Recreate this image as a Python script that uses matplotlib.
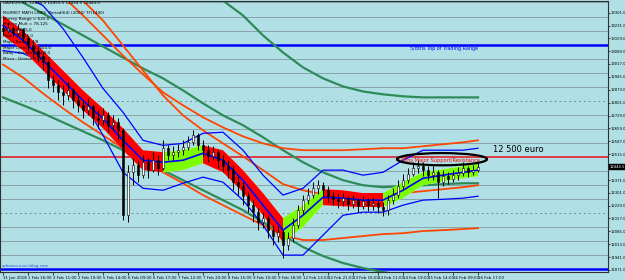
import numpy as np
import matplotlib
matplotlib.use("Agg")
import matplotlib.pyplot as plt
from matplotlib.patches import Ellipse
from matplotlib.transforms import blended_transform_factory

# candles (one every 5 px on the original)
first_open = 13215
close = [13203, 13220, 13187, 13209, 13159, 13120, 13092, 13064, 13026, 12926,
         12898, 12859, 12842, 12870, 12814, 12787, 12759, 12781, 12714, 12703,
         12731, 12676, 12692, 12648, 12175, 12414, 12453, 12398, 12470, 12426,
         12481, 12437, 12548, 12509, 12526, 12537, 12553, 12581, 12620, 12564,
         12537, 12503, 12526, 12481, 12448, 12426, 12359, 12337, 12281, 12231,
         12192, 12137, 12159, 12092, 12059, 12081, 12009, 12048, 12120, 12203,
         12259, 12287, 12325, 12342, 12314, 12281, 12264, 12253, 12270, 12237,
         12259, 12225, 12253, 12231, 12242, 12220, 12203, 12259, 12287, 12337,
         12370, 12403, 12437, 12448, 12426, 12398, 12414, 12359, 12392, 12375,
         12398, 12409, 12437, 12414, 12426, 12444]
high = [13231, 13248, 13231, 13237, 13220, 13170, 13137, 13109, 13081, 13037,
        12953, 12926, 12898, 12914, 12881, 12842, 12814, 12826, 12792, 12759,
        12770, 12748, 12731, 12714, 12659, 12453, 12492, 12481, 12509, 12492,
        12526, 12509, 12592, 12564, 12559, 12570, 12592, 12614, 12648, 12631,
        12592, 12564, 12559, 12537, 12509, 12481, 12448, 12392, 12359, 12303,
        12259, 12214, 12192, 12175, 12120, 12114, 12092, 12081, 12159, 12231,
        12287, 12325, 12359, 12370, 12359, 12337, 12303, 12292, 12298, 12281,
        12287, 12270, 12281, 12270, 12275, 12259, 12248, 12287, 12325, 12370,
        12403, 12437, 12470, 12481, 12470, 12448, 12448, 12426, 12426, 12414,
        12426, 12442, 12470, 12448, 12453, 12470]
low = [13176, 13187, 13170, 13176, 13137, 13092, 13048, 13026, 12981, 12881,
       12859, 12814, 12787, 12814, 12770, 12748, 12714, 12731, 12676, 12659,
       12676, 12637, 12648, 12592, 12148, 12137, 12342, 12359, 12381, 12381,
       12414, 12398, 12426, 12481, 12481, 12498, 12509, 12537, 12564, 12537,
       12503, 12470, 12481, 12437, 12414, 12381, 12314, 12287, 12231, 12192,
       12137, 12092, 12103, 12048, 12009, 12025, 11937, 11981, 12025, 12103,
       12181, 12237, 12270, 12292, 12281, 12248, 12231, 12214, 12225, 12203,
       12214, 12192, 12209, 12198, 12203, 12187, 12170, 12175, 12237, 12270,
       12314, 12353, 12392, 12409, 12392, 12370, 12370, 12270, 12337, 12348,
       12359, 12370, 12392, 12387, 12398, 12414]

# indicator lines, sampled every 4 bars
ind_idx = [0, 4, 8, 12, 16, 20, 24, 28, 32, 36, 40, 44, 48, 52, 56, 60,
           64, 68, 72, 76, 80, 84, 88, 92, 95]
ribbon_top = [13287, 13203, 13092, 12981, 12870, 12770, 12659, 12537, 12526, 12537, 12564, 12537,
              12426, 12298, 12159, 12231, 12320, 12314, 12298, 12298, 12359, 12414, 12431, 12448, 12459]
ribbon_bot = [13176, 13092, 12981, 12870, 12759, 12659, 12537, 12426, 12414, 12426, 12464, 12414,
              12303, 12175, 12025, 12109, 12231, 12225, 12220, 12220, 12270, 12342, 12364, 12381, 12392]
ribbon_mid = [13231, 13148, 13037, 12926, 12814, 12714, 12592, 12481, 12470, 12481, 12520, 12481,
              12370, 12231, 12092, 12175, 12275, 12270, 12259, 12259, 12314, 12381, 12398, 12414, 12426]
ribbon_trend = ["dn"] * 8 + ["up"] * 2 + ["dn"] * 4 + ["up"] * 2 + ["dn"] * 3 + ["up"] * 5

bb_up = [13481, 13398, 13342, 13214, 13053, 12881, 12748, 12592, 12564, 12575, 12631, 12637,
         12537, 12398, 12287, 12325, 12426, 12426, 12398, 12414, 12481, 12537, 12537, 12537, 12548]
bb_dn = [13092, 13076, 13026, 12926, 12814, 12620, 12414, 12325, 12314, 12353, 12387, 12359,
         12259, 12120, 11953, 11953, 12064, 12175, 12192, 12192, 12231, 12259, 12264, 12270, 12281]

nan = float("nan")
green_mid = [13426, 13359, 13298, 13237, 13176, 13114, 13053, 12992, 12937, 12870, 12798, 12731,
             12676, 12609, 12537, 12470, 12414, 12370, 12342, 12331, 12337, 12342, 12348, 12353, 12353]
green_top = [nan] * 10 + [13453, 13370, 13287, 13176, 13081, 12998, 12937, 12892, 12864, 12848,
                          12837, 12831, 12831, 12831, 12831]
green_low = [12831, 12787, 12742, 12692, 12642, 12592, 12537, 12481, 12426, 12370, 12314, 12259,
             12203, 12137, 12064, 11998, 11948, 11909, 11881, 11859, 11842, 11825, 11814, 11803, 11792]
orange_1 = [nan, nan, nan, 13392, 13287, 13176, 13064, 12959, 12859, 12787, 12720, 12664,
            12614, 12575, 12548, 12537, 12537, 12537, 12542, 12548, 12548, 12559, 12570, 12581, 12592]
orange_2 = [13703, 13620, 13537, 13453, 13370, 13259, 13120, 12981, 12842, 12731, 12648, 12575,
            12503, 12426, 12348, 12314, 12292, 12281, 12287, 12292, 12298, 12309, 12320, 12331, 12342]
orange_3 = [13014, 12942, 12853, 12770, 12692, 12620, 12548, 12481, 12414, 12353, 12287, 12231,
            12175, 12120, 12064, 12037, 12037, 12048, 12059, 12070, 12075, 12087, 12092, 12098, 12103]

murrey = [11875.0, 11953.125, 12031.25, 12109.375, 12187.5, 12265.625, 12343.75, 12421.875,
          12500.0, 12578.125, 12656.25, 12734.375, 12812.5, 12890.625, 12968.75, 13046.875,
          13125.0, 13203.125, 13281.25, 13359.375]

ytick_vals = [11871.0, 11941.0, 12013.0, 12085.0, 12157.0, 12229.0, 12301.0, 12371.0,
              12515.0, 12587.0, 12659.0, 12729.0, 12801.0, 12873.0, 12945.0, 13017.0,
              13089.0, 13159.0, 13231.0, 13301.0]
last_price = 12444.5

xtick_labels = ["31 Jan 2018", "1 Feb 16:00", "2 Feb 11:00", "2 Feb 19:00", "5 Feb 14:00",
                "6 Feb 09:00", "6 Feb 17:00", "7 Feb 12:00", "7 Feb 20:00", "8 Feb 15:00",
                "9 Feb 10:00", "9 Feb 18:00", "12 Feb 13:00", "12 Feb 21:00", "13 Feb 16:00",
                "14 Feb 11:00", "14 Feb 19:00", "15 Feb 14:00", "16 Feb 09:00", "16 Feb 17:00"]
xtick_pos = [0, 5, 10, 15, 20, 25, 30, 35, 40, 45, 50, 55, 60, 65, 70, 75, 80, 85, 90, 95]

header = ["DAXEUR,H1  12435.5 12453.5 12434.5 12444.5",
          "MURREY MATH LINES  Period(64) (2000) TF(1440)",
          "Murrey Range = 625.0",
          "Murrey Mult = 78.125",
          "Low : 11875.0",
          "High : 13125.0",
          "Major Swing : 4/8",
          "Major Octave : 12500.0",
          "Baby : Octave 12500.0",
          "Micro : Octave 12500.0"]

BG = "#b0e0e6"
fig = plt.figure(figsize=(6.25, 2.8), dpi=100, facecolor=BG)
ax = fig.add_axes([0.0, 8 / 280, 608 / 625, 1 - 8 / 280 - 0.002])
ax.set_facecolor(BG)

# murrey math lines
for lv in murrey:
    if lv in (11875.0, 13125.0):
        ax.axhline(lv, color="#0000ff", lw=1.8, zorder=1)
    elif lv == 12500.0:
        ax.axhline(lv, color="#e8101a", lw=1.1, zorder=1)
    elif lv in (12187.5, 12812.5):
        ax.axhline(lv, color="#6f8f96", lw=0.7, ls=(0, (2, 3)), zorder=1)
    else:
        ax.axhline(lv, color="#86a4aa", lw=0.7, zorder=1)

# slow lines
ax.plot(ind_idx, green_top, color="#2e8b57", lw=1.6, zorder=2)
ax.plot(ind_idx, green_mid, color="#2e8b57", lw=1.6, zorder=2)
ax.plot(ind_idx, green_low, color="#2e8b57", lw=1.6, zorder=2)
ax.plot(ind_idx, orange_1, color="#ff4500", lw=1.3, zorder=2)
ax.plot(ind_idx, orange_2, color="#ff4500", lw=1.3, zorder=2)
ax.plot(ind_idx, orange_3, color="#ff4500", lw=1.3, zorder=2)
ax.plot(ind_idx, bb_up, color="#0000ff", lw=0.9, zorder=2)
ax.plot(ind_idx, bb_dn, color="#0000ff", lw=0.9, zorder=2)

# ribbon
plt.rcParams["hatch.linewidth"] = 1.2
for s, tr in enumerate(ribbon_trend):
    sl = slice(s, s + 2)
    if tr == "dn":
        face, edge = "#ffd8d8", "#ff0000"
    else:
        face, edge = "#eaffc8", "#7cfc00"
    ax.fill_between(ind_idx[sl], ribbon_bot[sl], ribbon_top[sl], facecolor=face,
                    edgecolor=edge, hatch="|" * 16, linewidth=0, zorder=3)
ax.plot(ind_idx, ribbon_mid, color="#0000ff", lw=1.2, zorder=4)

# candles
xs = np.arange(len(close))
opens = [first_open] + close[:-1]
ax.vlines(xs, low, high, color="black", lw=0.7, zorder=5)
bottoms = [min(o, c) for o, c in zip(opens, close)]
heights = [max(abs(c - o), 3) for o, c in zip(opens, close)]
cols = ["white" if c >= o else "black" for o, c in zip(opens, close)]
ax.bar(xs, heights, bottom=bottoms, width=0.45, color=cols, edgecolor="black",
       linewidth=0.4, zorder=6)

# annotations
ax.text(81.4, 13103, "5/8ths Top of Trading Range", color="#0000ff", fontsize=3.5,
        va="center", ha="left", zorder=7)
ax.text(78.8, 12481, "4/8ths Major Support/Resistance", color="#ff0000", fontsize=3.7,
        va="center", ha="left", zorder=7)
ax.add_patch(Ellipse((87.8, 12487), 18, 68, fill=False, edgecolor="black", lw=1.6, zorder=8))
ax.text(98, 12540, "12 500 euro", color="black", fontsize=6.0, va="center", ha="left",
        zorder=8)
ax.text(-0.2, 11890, "sohozoo.over-blog.com", color="#3355cc", fontsize=3.0, va="center",
        ha="left", zorder=8)

for k, line in enumerate(header):
    fig.text(3 / 625, 1 - (3 + 5.8 * k + (4 if k else 0)) / 280, line, fontsize=3.0,
             color="black", va="center", ha="left")

# axes
ax.set_xlim(-0.6, 121)
ax.set_ylim(11859, 13370)
ax.yaxis.tick_right()
ax.set_yticks(ytick_vals)
ax.set_yticklabels(["%.1f" % v for v in ytick_vals], fontsize=2.7)
ax.set_xticks(xtick_pos)
ax.set_xticklabels(xtick_labels, fontsize=2.85)
for lbl in ax.get_xticklabels():
    lbl.set_ha("left")
ax.tick_params(axis="x", length=2, width=0.5, pad=1, colors="black")
ax.tick_params(axis="y", length=1.2, width=0.5, pad=0.3, colors="black")
for sp in ax.spines.values():
    sp.set_color("#303030")
    sp.set_linewidth(0.8)

tr = blended_transform_factory(ax.transAxes, ax.transData)
ax.text(1.002, last_price, "%.1f" % last_price, transform=tr, fontsize=2.7, color="white",
        va="center", ha="left", zorder=9,
        bbox=dict(boxstyle="square,pad=0.1", facecolor="black", edgecolor="black"))

fig.savefig("out.png", dpi=100, facecolor=BG)
